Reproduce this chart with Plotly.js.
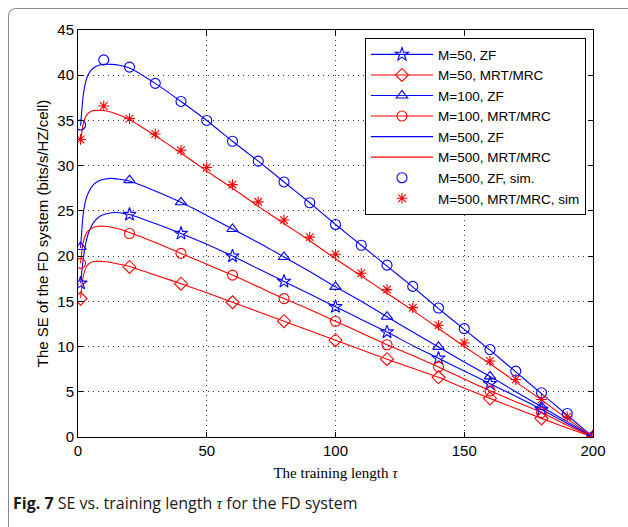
<!DOCTYPE html>
<html>
<head>
<meta charset="utf-8">
<script src="https://cdn.plot.ly/plotly-3.0.1.min.js"></script>
<style>
  html, body { margin:0; padding:0; background:#fff; }
  #wrap { position:relative; width:628px; height:527px; overflow:hidden; }
  #chart { position:absolute; left:0; top:0; width:628px; height:527px; }
  #frame { position:absolute; left:8px; top:8px; width:700px; height:600px;
           border-left:1.5px solid #8a8a8a; border-top:1.5px solid #8a8a8a;
           border-top-left-radius:8px; pointer-events:none; }
</style>
</head>
<body>
<div id="wrap">
  <div id="chart"></div>
  <div id="frame"></div>
</div>
<script>
// Training length grids
const tauLine = [1,2,3,4,6,8,10,13,16,20,30,40,50,60,70,80,90,100,110,120,130,140,150,160,170,180,190,200];
const tauMark = [1,20,40,60,80,100,120,140,160,180,200];
const tauSim  = [1,10,20,30,40,50,60,70,80,90,100,110,120,130,140,150,160,170,180,190,200];

// Analytical curves
const zf50Line   = [17.0,19.6,21.4,22.5,23.7,24.3,24.6,24.8,24.8,24.6,23.6,22.5,21.3,20.0,18.6,17.2,15.8,14.4,13.0,11.6,10.1,8.7,7.3,5.9,4.5,3.05,1.5,0];
const mrt50Line  = [15.4,17.7,18.7,19.1,19.4,19.45,19.4,19.3,19.1,18.85,17.9,16.95,15.95,14.9,13.85,12.8,11.75,10.7,9.65,8.6,7.6,6.6,5.4,4.27,3.15,2.06,1.0,0];
const zf100Line  = [20.9,24.6,26.2,27.0,27.9,28.3,28.5,28.6,28.5,28.3,27.2,25.95,24.5,23.0,21.5,19.9,18.3,16.6,15.0,13.3,11.6,9.96,8.3,6.7,5.0,3.35,1.7,0];
const mrt100Line = [19.2,21.5,22.4,22.8,23.2,23.3,23.3,23.2,23.0,22.6,21.5,20.3,19.1,17.9,16.6,15.3,14.1,12.8,11.5,10.2,9.0,7.75,6.4,5.1,3.9,2.7,1.3,0];
const zf500Line  = [34.4,37.7,39.3,40.1,40.8,41.1,41.2,41.2,41.1,40.8,39.1,37.1,35.0,32.7,30.5,28.2,25.9,23.5,21.2,18.9,16.6,14.2,11.9,9.6,7.2,4.8,2.4,0];
const mrt500Line = [32.6,34.6,35.4,35.8,36.1,36.1,36.1,35.9,35.6,35.1,33.3,31.4,29.4,27.5,25.5,23.6,21.7,19.7,17.8,15.9,14.0,12.0,10.0,8.1,6.1,4.1,2.0,0];

// Markers on analytical curves
const zf50Mark   = [17.0,24.6,22.5,20.0,17.2,14.4,11.6,8.7,5.9,3.05,0];
const mrt50Mark  = [15.3,18.8,16.95,14.9,12.8,10.7,8.6,6.6,4.27,2.06,0];
const zf100Mark  = [21.0,28.4,25.95,23.0,19.9,16.6,13.3,9.96,6.7,3.35,0];
const mrt100Mark = [19.2,22.5,20.3,17.9,15.3,12.8,10.2,7.75,5.1,2.7,0];

// Simulation points M=500
const zf500Sim  = [34.5,41.7,40.9,39.1,37.1,35.0,32.7,30.5,28.2,25.9,23.5,21.2,19.0,16.65,14.26,11.98,9.67,7.28,4.89,2.6,0];
const mrt500Sim = [32.9,36.6,35.2,33.5,31.7,29.8,27.9,26.0,24.0,22.1,20.2,18.1,16.3,14.3,12.35,10.4,8.4,6.36,4.15,2.24,0];

const names = ['M=50, ZF','M=50, MRT/MRC','M=100, ZF','M=100, MRT/MRC','M=500, ZF','M=500, MRT/MRC','M=500, ZF, sim.','M=500, MRT/MRC, sim'];

const BLUE = '#0000ff', RED = '#ff0000';
const LW = 1.1;

function lineTrace(y, color, name, show, rank) {
  return {x: tauLine, y: y, type: 'scatter', mode: 'lines', name: name,
          line: {color: color, width: LW, shape: 'spline', smoothing: 0.6},
          showlegend: show, legendrank: rank, hoverinfo: 'skip'};
}
function markTrace(x, y, color, symbol, size) {
  return {x: x, y: y, type: 'scatter', mode: 'markers', showlegend: false,
          marker: {symbol: symbol, size: size, color: color, line: {color: color, width: 1.1}}};
}
function legendTrace(color, symbol, size, name, rank) {
  return {x: [null], y: [null], type: 'scatter', mode: 'lines+markers', name: name,
          line: {color: color, width: LW},
          marker: {symbol: symbol, size: size, color: color, line: {color: color, width: 1.1}},
          legendrank: rank};
}

const data = [
  lineTrace(zf50Line, BLUE, names[0], false, 1),
  lineTrace(mrt50Line, RED, names[1], false, 2),
  lineTrace(zf100Line, BLUE, names[2], false, 3),
  lineTrace(mrt100Line, RED, names[3], false, 4),
  lineTrace(zf500Line, BLUE, names[4], true, 5),
  lineTrace(mrt500Line, RED, names[5], true, 6),
  markTrace(tauMark, zf50Mark, BLUE, 'star-open', 10),
  markTrace(tauMark, mrt50Mark, RED, 'diamond-open', 10),
  markTrace(tauMark, zf100Mark, BLUE, 'triangle-up-open', 10),
  markTrace(tauMark, mrt100Mark, RED, 'circle-open', 10),
  {x: tauSim, y: zf500Sim, type: 'scatter', mode: 'markers', name: names[6], legendrank: 7,
   marker: {symbol: 'circle-open', size: 10, color: BLUE, line: {color: BLUE, width: 1.1}}},
  {x: tauSim, y: mrt500Sim, type: 'scatter', mode: 'markers', name: names[7], legendrank: 8,
   marker: {symbol: 'asterisk-open', size: 9, color: RED, line: {color: RED, width: 1.1}}},
  legendTrace(BLUE, 'star-open', 10, names[0], 1),
  legendTrace(RED, 'diamond-open', 10, names[1], 2),
  legendTrace(BLUE, 'triangle-up-open', 10, names[2], 3),
  legendTrace(RED, 'circle-open', 10, names[3], 4)
];

const axisCommon = {
  showline: true, linecolor: '#000', linewidth: 1, mirror: 'ticks',
  ticks: 'inside', ticklen: 5, tickcolor: '#000', tickwidth: 1,
  showgrid: true, gridcolor: '#333', gridwidth: 1, griddash: '1px,4px',
  zeroline: false,
  tickfont: {family: 'Liberation Sans, Arial, sans-serif', size: 15, color: '#000'}
};

const layout = {
  width: 628, height: 527,
  margin: {l: 78, r: 35, t: 30, b: 90},
  paper_bgcolor: '#fff', plot_bgcolor: '#fff',
  showlegend: true,
  xaxis: Object.assign({}, axisCommon, {
    range: [0, 200], tickvals: [0,50,100,150,200], ticktext: ['0','50','100','150','200'],
    title: {text: 'The training length <i>τ</i>', standoff: 9,
            font: {family: 'Liberation Serif, Times New Roman, serif', size: 15, color: '#000'}}
  }),
  yaxis: Object.assign({}, axisCommon, {
    range: [0, 45], tickvals: [0,5,10,15,20,25,30,35,40,45],
    title: {text: 'The SE of the FD system (bits/s/HZ/cell)', standoff: 5,
            font: {family: 'Liberation Sans, Arial, sans-serif', size: 15, color: '#000'}}
  }),
  legend: {
    x: 0.9864, xanchor: 'right', y: 0.980, yanchor: 'top',
    bgcolor: '#fff', bordercolor: '#000', borderwidth: 1,
    font: {family: 'Liberation Sans, Arial, sans-serif', size: 13.5, color: '#000'},
    itemwidth: 62,
    tracegroupgap: 0
  },
  annotations: [{
    xref: 'paper', yref: 'paper', x: -0.131, y: -0.162, xanchor: 'left', yanchor: 'middle',
    showarrow: false, align: 'left',
    text: '<b>Fig. 7</b> SE vs. training length <span style="font-family:Liberation Serif, serif"><i>τ</i></span> for the FD system',
    font: {family: 'Open Sans, Noto Sans, sans-serif', size: 16, color: '#1a1a1a'}
  }]
};

Plotly.newPlot('chart', data, layout, {displayModeBar: false, staticPlot: true});
</script>
</body>
</html>
